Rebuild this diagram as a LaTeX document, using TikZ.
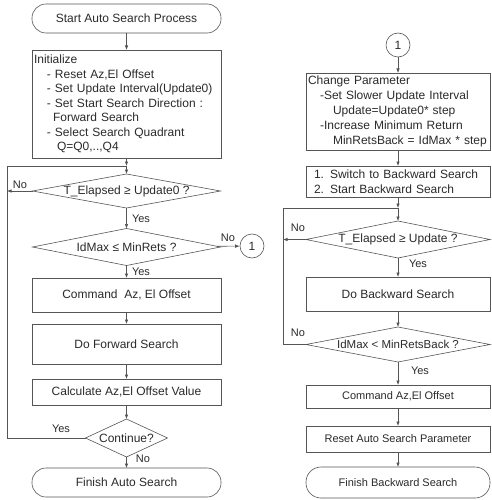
\documentclass[tikz,border=0pt]{standalone}
\usepackage{fontspec}
\setmainfont{Liberation Sans}
\usepackage{tikz}
\usetikzlibrary{arrows.meta}
\usetikzlibrary{shapes.geometric}

\definecolor{linecol}{HTML}{555555}
\definecolor{txtcol}{HTML}{2A2A2A}

\begin{document}
\begin{tikzpicture}[x=1pt, y=-1pt,
    box/.style={draw=linecol, line width=0.6pt, rectangle, minimum width=189pt, inner sep=2pt, outer sep=0pt, text=txtcol, font=\fontsize{12}{14.5}\selectfont},
    rbox/.style={box, minimum width=184pt},
    term/.style={box, rounded corners=14pt},
    dia/.style={draw=linecol, line width=0.6pt, diamond, inner sep=0pt, outer sep=0pt},
    txt/.style={text=txtcol, inner sep=0pt, font=\fontsize{12}{14}\selectfont},
    lab/.style={text=txtcol, inner sep=0pt, font=\fontsize{11}{13}\selectfont},
    conn/.style={draw=linecol, line width=0.6pt, circle, minimum size=24pt, inner sep=0pt, text=txtcol, font=\fontsize{12}{14}\selectfont},
    arr/.style={draw=linecol, line width=0.6pt, -{Latex[length=4.5pt,width=3.5pt]}},
    ln/.style={draw=linecol, line width=0.6pt}]
    \useasboundingbox (0,0) rectangle (491,500);
    % Vorwaertssuche
    \node[term, minimum height=29pt] (start) at (126.5,18.5) {Start Auto Search Process};
    \node[box, minimum height=108pt, text width=185pt, align=left] (init) at (126.5,104) {Initialize\\
      \hspace*{13pt}- Reset Az,El Offset\\
      \hspace*{13pt}- Set Update Interval(Update0)\\
      \hspace*{13pt}- Set Start Search Direction :\\
      \hspace*{19pt}Forward Search\\
      \hspace*{13pt}- Select Search Quadrant\\
      \hspace*{23pt}Q=Q0,..,Q4};
    \coordinate (j1) at (126.5,166);
    \node[dia, minimum width=188pt, minimum height=34pt] (d1) at (126.5,191) {};
    \node[txt] (d1t) at (d1) {T\_Elapsed ≥ Update0 ?};
    \node[dia, minimum width=188pt, minimum height=37pt] (d2) at (126.5,247) {};
    \node[txt] (d2t) at (d2) {IdMax ≤ MinRets ?};
    \node[conn] (c1) at (252,246) {1};
    \node[box, minimum height=34pt] (cmd) at (126.5,295) {Command\ \ Az, El Offset};
    \node[box, minimum height=40pt] (fwd) at (126.5,344) {Do Forward Search};
    \node[box, minimum height=26pt] (calc) at (126.5,392) {Calculate Az,El Offset Value};
    \node[dia, minimum width=82pt, minimum height=38pt] (d3) at (126.5,438) {};
    \node[txt] (d3t) at (d3) {Continue?};
    \node[term, minimum height=29pt] (fin) at (126.5,482.5) {Finish Auto Search};
    \coordinate (lx) at (7,0);

    \draw[arr] (start) -- (init);
    \draw[arr] (init) -- (j1);
    \draw[arr] (j1) -- (d1);
    \draw[arr] (d1) -- (d2);
    \draw[arr] (d2) -- (cmd);
    \draw[arr] (d2) -- (c1);
    \draw[arr] (cmd) -- (fwd);
    \draw[arr] (fwd) -- (calc);
    \draw[arr] (calc) -- (d3);
    \draw[arr] (d3) -- (fin);
    % Schleife links
    \draw[arr] (d1.west) -- (d1.west -| lx);
    \draw[ln] (d3.west) -- (d3.west -| lx) -- (j1 -| lx) -- (j1);

    \node[lab] (no1) at (20,185) {No};
    \node[lab] (yes1) at (141,219) {Yes};
    \node[lab] (no2) at (228,238) {No};
    \node[lab] (yes2) at (141,272) {Yes};
    \node[lab] (yes3) at (61,429) {Yes};
    \node[lab] (no3) at (143,459) {No};

    % Rueckwaertssuche
    \node[conn] (c2) at (398,45) {1};
    \node[rbox, minimum height=77pt, text width=180pt, align=left, font=\fontsize{12}{15}\selectfont] (chg) at (398,111.5) {Change Parameter\\
      \hspace*{12pt}-Set Slower Update Interval\\
      \hspace*{25pt}Update=Update0* step\\
      \hspace*{12pt}-Increase Minimum Return\\
      \hspace*{25pt}MinRetsBack = IdMax * step};
    \node[rbox, minimum height=31pt, text width=180pt, align=left] (sw) at (398,181.5) {\hspace*{6pt}1. Switch to Backward Search\\
      \hspace*{6pt}2. Start Backward Search};
    \coordinate (j2) at (398,208);
    \node[dia, minimum width=184pt, minimum height=37pt] (d4) at (398,239.5) {};
    \node[txt] (d4t) at (d4) {T\_Elapsed ≥ Update ?};
    \node[rbox, minimum height=34pt] (bwd) at (398,294) {Do Backward Search};
    \node[dia, minimum width=184pt, minimum height=35pt] (d5) at (398,344.5) {};
    \node[txt, font=\fontsize{11.5}{13}\selectfont] (d5t) at (d5) {IdMax < MinRetsBack ?};
    \node[rbox, minimum height=23pt, font=\fontsize{11}{13}\selectfont] (cmd2) at (398,396.5) {Command Az,El Offset};
    \node[rbox, minimum height=26pt, font=\fontsize{11}{13}\selectfont] (rst) at (398,439) {Reset Auto Search Parameter};
    \node[term, minimum width=184pt, minimum height=31pt, rounded corners=15pt, font=\fontsize{11}{13}\selectfont] (fin2) at (398,482.5) {Finish Backward Search};
    \coordinate (rx) at (283,0);

    \draw[arr] (c2) -- (chg);
    \draw[arr] (chg) -- (sw);
    \draw[arr] (sw) -- (j2);
    \draw[arr] (j2) -- (d4);
    \draw[arr] (d4) -- (bwd);
    \draw[arr] (bwd) -- (d5);
    \draw[arr] (d5) -- (cmd2);
    \draw[arr] (cmd2) -- (rst);
    \draw[arr] (rst) -- (fin2);
    % Schleife rechts
    \draw[arr] (d4.west) -- (d4.west -| rx);
    \draw[ln] (d5.west) -- (d5.west -| rx) -- (j2 -| rx) -- (j2);

    \node[lab] (no4) at (298,228) {No};
    \node[lab] (yes4) at (418,264) {Yes};
    \node[lab] (no5) at (298,333) {No};
    \node[lab] (yes5) at (420,371) {Yes};
\end{tikzpicture}
\end{document}
